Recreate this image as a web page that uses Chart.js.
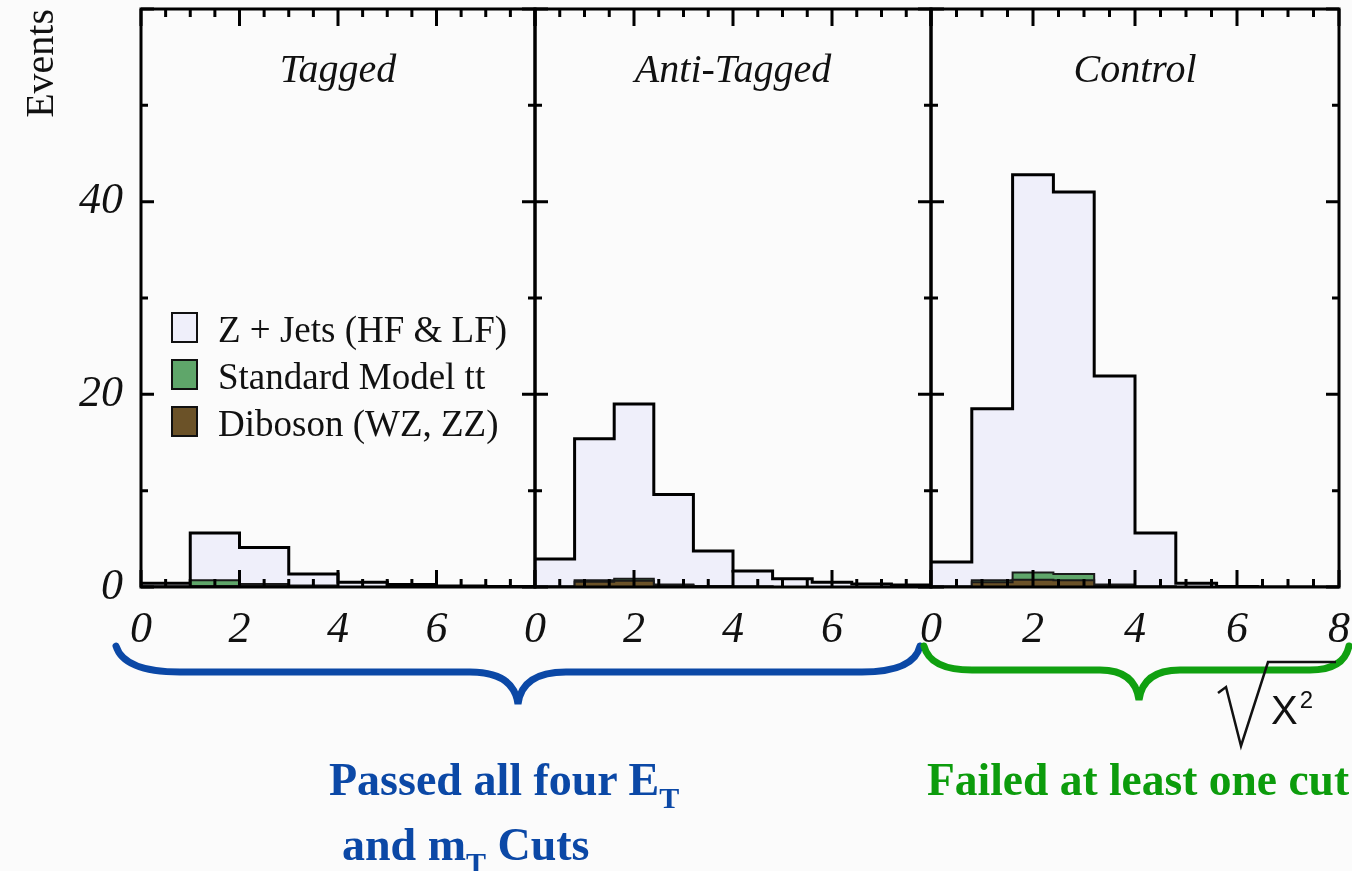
<!DOCTYPE html>
<html>
<head>
<meta charset="utf-8">
<title>Events vs sqrt(X2)</title>
<script src="https://cdn.jsdelivr.net/npm/chart.js@4.4.1/dist/chart.umd.min.js"></script>
<style>
    body {
        margin: 0;
        width: 1352px;
        height: 871px;
        overflow: hidden;
        position: relative;
        background: #fbfbfb;
        font-family: 'Liberation Serif', 'Times New Roman', serif;
    }
    canvas { position: absolute; top: 0; }
    #legend { position: absolute; left: 171px; top: 306px; z-index: 2; }
    .item { height: 47px; display: flex; align-items: center; font-size: 37px; color: #111; white-space: nowrap; }
    .box { width: 23px; height: 27px; border: 2px solid #111; margin-right: 20px; margin-top: -4px; }
    .note { position: absolute; font-weight: bold; font-size: 46px; line-height: 46px; white-space: nowrap; }
    .note sub { font-size: 30px; line-height: 0; vertical-align: -13px; }
    .blue { color: #0b48a6; }
    .green { color: #0c9c0c; }
    #overlay { position: absolute; left: 0; top: 0; }
    #chi { position: absolute; left: 1271px; top: 690px; font-family: 'Liberation Sans', sans-serif; font-size: 40px; line-height: 40px; color: #111; }
    #chi sup { font-size: 24px; line-height: 0; vertical-align: 16px; margin-left: 2px; }
</style>
</head>
<body>
<canvas id="tagged" width="539" height="660" style="left:0px"></canvas>
<canvas id="antiTagged" width="430" height="660" style="left:505px"></canvas>
<canvas id="control" width="451" height="660" style="left:901px"></canvas>

<div id="legend"></div>

<svg id="overlay" width="1352" height="871">
    <path d="M116,646 Q124,672 180,672 L470,672 Q514,672 518,704 Q522,672 566,672 L862,672 Q914,672 920,646"
          fill="none" stroke="#0b48a6" stroke-width="7" stroke-linecap="round"/>
    <path d="M924,646 Q930,670 972,670 L1100,670 Q1135,670 1139,700 Q1143,670 1180,670 L1310,670 Q1344,670 1349,646"
          fill="none" stroke="#10a010" stroke-width="7" stroke-linecap="round"/>
    <path d="M1218,693 L1226,687 L1241,746 L1268,662 L1336,662"
          fill="none" stroke="#111" stroke-width="2.5"/>
</svg>
<div id="chi">X<sup>2</sup></div>

<div class="note blue" style="left:329px; top:757px">Passed all four E<sub>T</sub></div>
<div class="note blue" style="left:342px; top:822px">and m<sub>T</sub> Cuts</div>
<div class="note green" style="left:927px; top:757px; font-size:45.5px">Failed at least one cut</div>

<script>
// Legend / series
const seriesNames = ['Z + Jets (HF & LF)', 'Standard Model tt', 'Diboson (WZ, ZZ)'];
const seriesColors = ['#efeffa', '#5fa66a', '#6b5228'];
const panelNames = ['Tagged', 'Anti-Tagged', 'Control'];

// Axis settings
const xMax = 8;
const yMax = 60;
const yLabelTicks = [0, 20, 40];
const xLabelTicks = [0, 2, 4, 6];
const xLabelTicksLast = [0, 2, 4, 6, 8];

// Tagged panel, bins of width 1
const taggedBinWidth = 1.0;
const taggedZJets   = [0.35, 4.9, 3.8, 1.2, 0.5, 0.25, 0.1, 0.05];
const taggedTTbar   = [0.0, 0.6, 0.2, 0.1, 0.0, 0.0, 0.0, 0.0];
const taggedDiboson = [0.05, 0.1, 0.1, 0.05, 0.0, 0.0, 0.0, 0.0];

// Anti-Tagged panel, bins of width 0.8
const antiBinWidth = 0.8;
const antiZJets   = [2.85, 14.7, 18.15, 9.35, 3.65, 1.6, 0.85, 0.5, 0.3, 0.2];
const antiTTbar   = [0.0, 0.15, 0.2, 0.05, 0.05, 0.0, 0.0, 0.0, 0.0, 0.0];
const antiDiboson = [0.05, 0.55, 0.65, 0.2, 0.05, 0.05, 0.0, 0.0, 0.0, 0.0];

// Control panel, bins of width 0.8
const controlBinWidth = 0.8;
const controlZJets   = [2.55, 17.8, 41.3, 39.65, 21.65, 5.55, 0.4, 0.05, 0.0, 0.0];
const controlTTbar   = [0.0, 0.2, 0.75, 0.65, 0.1, 0.0, 0.0, 0.0, 0.0, 0.0];
const controlDiboson = [0.05, 0.5, 0.75, 0.7, 0.15, 0.05, 0.0, 0.0, 0.0, 0.0];

const FONT = "'Liberation Serif', 'Times New Roman', serif";

// HTML legend
const legend = document.getElementById('legend');
seriesNames.forEach((name, i) => {
    const row = document.createElement('div');
    row.className = 'item';
    row.innerHTML = '<div class="box" style="background:' + seriesColors[i] + '"></div>';
    row.appendChild(document.createTextNode(name));
    legend.appendChild(row);
});

// histogram outline as stepped points
function steps(values, width) {
    const pts = [{ x: 0, y: 0 }];
    values.forEach((v, i) => pts.push({ x: i * width, y: v }));
    pts.push({ x: values.length * width, y: 0 });
    return pts;
}

function addUp(a, b) {
    return a.map((v, i) => v + b[i]);
}

// frame, inward ticks and panel name
const framePlugin = {
    id: 'frame',
    afterDatasetsDraw(chart, args, opts) {
        const ctx = chart.ctx;
        const a = chart.chartArea;
        const x = chart.scales.x;
        const y = chart.scales.y;
        ctx.save();
        ctx.strokeStyle = '#000';
        ctx.lineWidth = 3;
        ctx.beginPath();
        x.ticks.forEach(t => {
            const px = x.getPixelForValue(t.value);
            const len = t.value % 2 === 0 ? 17 : 8;
            ctx.moveTo(px, a.bottom); ctx.lineTo(px, a.bottom - len);
            ctx.moveTo(px, a.top); ctx.lineTo(px, a.top + len);
        });
        y.ticks.forEach(t => {
            const py = y.getPixelForValue(t.value);
            const len = t.value % 20 === 0 ? 13 : 7;
            ctx.moveTo(a.left, py); ctx.lineTo(a.left + len, py);
            ctx.moveTo(a.right, py); ctx.lineTo(a.right - len, py);
        });
        ctx.stroke();
        ctx.strokeRect(a.left, a.top, a.right - a.left, a.bottom - a.top);

        ctx.fillStyle = '#111';
        ctx.font = 'italic 40px ' + FONT;
        ctx.textAlign = 'center';
        ctx.textBaseline = 'alphabetic';
        ctx.fillText(opts.title, (a.left + a.right) / 2, a.top + 73);
        ctx.restore();
    }
};

function makePanel(id, title, binWidth, zjets, ttbar, diboson, p) {
    const dbTop = diboson;
    const ttTop = addUp(dbTop, ttbar);
    const zTop = addUp(ttTop, zjets);
    const line = { stepped: true, fill: 'origin', pointRadius: 0, borderJoinStyle: 'miter' };

    new Chart(document.getElementById(id), {
        type: 'line',
        data: {
            datasets: [
                Object.assign({ label: seriesNames[2], data: steps(dbTop, binWidth), backgroundColor: seriesColors[2], borderColor: '#1a1a1a', borderWidth: 2 }, line),
                Object.assign({ label: seriesNames[1], data: steps(ttTop, binWidth), backgroundColor: seriesColors[1], borderColor: '#1a1a1a', borderWidth: 2 }, line),
                Object.assign({ label: seriesNames[0], data: steps(zTop, binWidth), backgroundColor: seriesColors[0], borderColor: '#000', borderWidth: 3 }, line)
            ]
        },
        options: {
            responsive: false,
            animation: false,
            events: [],
            layout: { autoPadding: false, padding: { top: 9, left: p.left, right: p.right, bottom: 0 } },
            plugins: {
                legend: { display: false },
                tooltip: { enabled: false },
                frame: { title: title }
            },
            scales: {
                x: {
                    type: 'linear',
                    min: 0,
                    max: xMax,
                    grid: { display: false, drawTicks: false },
                    border: { display: false },
                    ticks: {
                        stepSize: 0.5,
                        autoSkip: false,
                        maxRotation: 0,
                        padding: 17,
                        color: '#111',
                        font: { family: FONT, size: 44, style: 'italic' },
                        callback: v => p.xLabels.includes(v) ? String(v) : ''
                    },
                    afterFit: s => {
                        s.height = 73;
                        s.paddingLeft = 0;
                        s.paddingRight = 0;
                    }
                },
                y: {
                    display: p.showY,
                    min: 0,
                    max: yMax,
                    grid: { display: false, drawTicks: false },
                    border: { display: false },
                    ticks: {
                        stepSize: 5,
                        padding: 18,
                        color: '#111',
                        font: { family: FONT, size: 44, style: 'italic' },
                        callback: v => yLabelTicks.includes(v) ? String(v) : ''
                    },
                    title: {
                        display: true,
                        text: 'Events',
                        align: 'end',
                        color: '#111',
                        font: { family: FONT, size: 40 },
                        padding: { top: 18, bottom: 0 }
                    },
                    afterFit: s => {
                        if (p.showY) s.width = 141;
                        s.paddingTop = 0;
                        s.paddingBottom = 0;
                    }
                }
            }
        },
        plugins: [framePlugin]
    });
}

makePanel('tagged', panelNames[0], taggedBinWidth, taggedZJets, taggedTTbar, taggedDiboson,
    { left: 0, right: 4, showY: true, xLabels: xLabelTicks });
makePanel('antiTagged', panelNames[1], antiBinWidth, antiZJets, antiTTbar, antiDiboson,
    { left: 30, right: 4, showY: false, xLabels: xLabelTicks });
makePanel('control', panelNames[2], controlBinWidth, controlZJets, controlTTbar, controlDiboson,
    { left: 30, right: 13, showY: false, xLabels: xLabelTicksLast });
</script>
</body>
</html>
